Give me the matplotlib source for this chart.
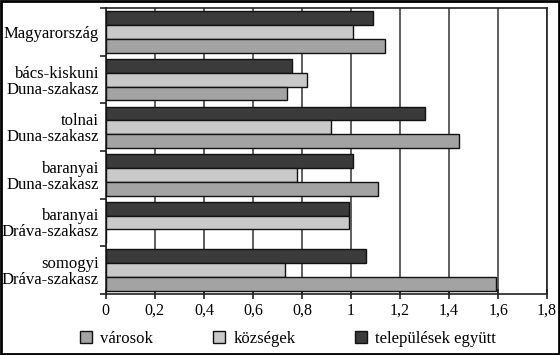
import matplotlib
matplotlib.use("Agg")
import matplotlib.pyplot as plt
from matplotlib.patches import Patch, Rectangle
import numpy as np

# -------- adatok --------
teruletek = ["Magyarország", "bács-kiskuni\nDuna-szakasz", "tolnai\nDuna-szakasz",
             "baranyai\nDuna-szakasz", "baranyai\nDráva-szakasz", "somogyi\nDráva-szakasz"]
telepulesek_egyutt = [1.09, 0.76, 1.30, 1.01, 0.99, 1.06]
kozsegek = [1.01, 0.82, 0.92, 0.78, 0.99, 0.73]
varosok = [1.14, 0.74, 1.44, 1.11, 0.0, 1.59]
x_ticks = [0, 0.2, 0.4, 0.6, 0.8, 1.0, 1.2, 1.4, 1.6, 1.8]
x_labels = ["0", "0,2", "0,4", "0,6", "0,8", "1", "1,2", "1,4", "1,6", "1,8"]
# ------------------------

plt.rcParams["font.family"] = ["Liberation Serif", "DejaVu Serif"]

c_sotet = "#3b3b3b"
c_vilagos = "#c9c9c9"
c_kozep = "#a3a3a3"

fig = plt.figure(figsize=(5.6, 3.55), dpi=100)
ax = fig.add_axes([0.189, 0.172, 0.788, 0.805])

y = np.arange(len(teruletek))
h = 0.29
kw = dict(height=h, edgecolor="#111111", linewidth=1.0, zorder=3)
ax.barh(y - h, telepulesek_egyutt, color=c_sotet, **kw)
ax.barh(y, kozsegek, color=c_vilagos, **kw)
ax.barh(y + h, varosok, color=c_kozep, **kw)

ax.set_ylim(len(teruletek) - 0.5, -0.5)
ax.set_xlim(0, 1.8)
ax.set_xticks(x_ticks)
ax.set_xticklabels(x_labels, fontsize=11.5)
ax.set_yticks(y)
ax.set_yticklabels(teruletek, fontsize=12, linespacing=1.0)
ax.tick_params(axis="y", which="major", length=0, pad=5)
ax.set_yticks(np.arange(len(teruletek) + 1) - 0.5, minor=True)
ax.tick_params(axis="y", which="minor", length=4, width=1.2, direction="out", color="#222222")
ax.tick_params(axis="x", length=7, width=1.2, direction="inout", color="#222222", pad=3)

ax.grid(axis="x", color="#333333", linewidth=1.1, zorder=0)
for s in ax.spines.values():
    s.set_color("#222222")
    s.set_linewidth(1.2)

leg = [Patch(facecolor=c_kozep, edgecolor="#111111", label="városok"),
       Patch(facecolor=c_vilagos, edgecolor="#111111", label="községek"),
       Patch(facecolor=c_sotet, edgecolor="#111111", label="települések együtt")]
fig.legend(handles=leg, loc="center", bbox_to_anchor=(0.515, 0.045), ncol=3,
           frameon=False, fontsize=12, handlelength=0.7, handleheight=0.7,
           handletextpad=0.5, columnspacing=3.6)

# keret a kép körül
fig.patches.append(Rectangle((0.002, 0.003), 0.996, 0.994, transform=fig.transFigure,
                             fill=False, edgecolor="black", linewidth=2))

plt.savefig("out.png", dpi=100)
